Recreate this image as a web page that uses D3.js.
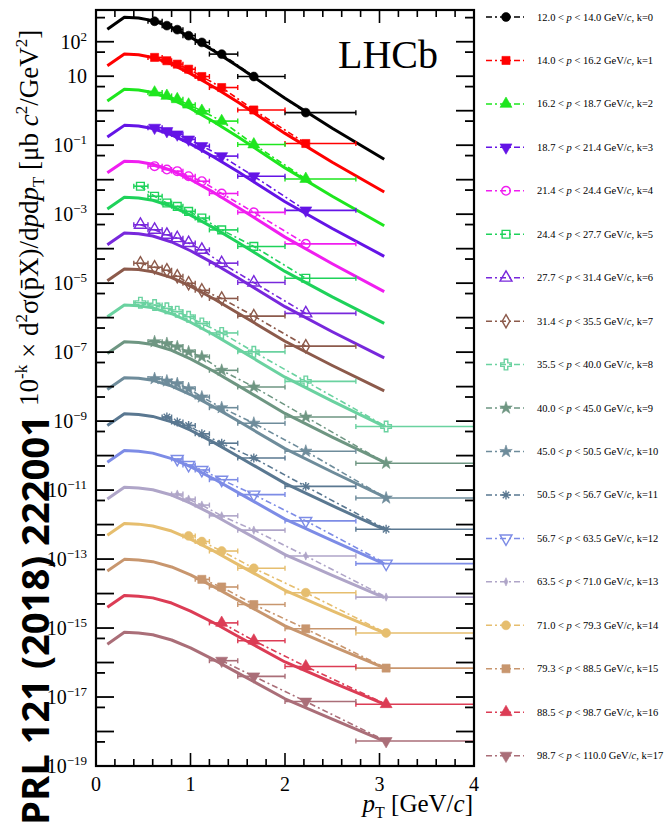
<!DOCTYPE html>
<html>
<head>
<meta charset="utf-8">
<script src="https://cdn.jsdelivr.net/npm/d3@7"></script>
<style>
  body { margin: 0; background: #fff; }
  svg { display: block; }
</style>
</head>
<body>
<svg id="chart" width="671" height="827"></svg>
<script>
// ---- data ----
const pEdges = [12.0, 14.0, 16.2, 18.7, 21.4, 24.4, 27.7, 31.4, 35.5, 40.0, 45.0, 50.5, 56.7, 63.5, 71.0, 79.3, 88.5, 98.7, 110.0];

const seriesColors = ["#000000", "#ff0000", "#1ee61e", "#6414e6", "#f01ef0", "#1ed25a", "#7828dc", "#8c5a4b", "#6ad2a0",
  "#6e9682", "#6e8c9b", "#5a7891", "#7d8ce6", "#afa5c8", "#e6be6e", "#c8966e", "#dc3c55", "#aa6e78"];

const seriesMarkers = ["circle", "square", "triangle", "triangleDown", "openCircle", "openSquare", "openTriangle", "openDiamond", "openCross",
  "star", "star", "asterisk", "openTriangleDown", "thinDiamond", "circle", "square", "triangle", "triangleDown"];

// pT bins of the measurement
const binLow = [0.40, 0.55, 0.70, 0.80, 0.92, 1.05, 1.20, 1.50, 2.00, 2.75];
const binHigh = [0.55, 0.70, 0.80, 0.92, 1.05, 1.20, 1.50, 2.00, 2.75, 4.00];
const binCenter = [0.47, 0.62, 0.75, 0.86, 0.98, 1.12, 1.33, 1.67, 2.22, 3.07];

// measured points, one row per k (null = no point in that bin)
const dataValues = [
  [null, 392, 293, 224, 150, 95.7, 43.8, 9.8, 0.88, null],
  [null, 35.1, 28.1, 22.4, 16.0, 9.8, 4.7, 1.05, 0.112, null],
  [null, 3.36, 2.69, 2.15, 1.50, 0.99, 0.50, 0.105, 0.0105, null],
  [null, 0.322, 0.258, 0.206, 0.147, 0.0944, 0.0483, 0.0126, 1.29e-3, null],
  [null, 0.0247, 0.0197, 0.0177, 0.01265, 9.04e-3, 3.98e-3, 1.13e-3, 1.38e-4, null],
  [6.47e-3, 3.31e-3, 2.11e-3, 1.69e-3, 1.21e-3, 7.73e-4, 3.5e-4, 1.16e-4, 1.39e-5, null],
  [4.93e-4, 3.53e-4, 2.52e-4, 2.02e-4, 1.45e-4, 9.25e-5, 3.8e-5, 1.04e-5, 1.33e-6, null],
  [3.79e-5, 2.9e-5, 2.37e-5, 1.58e-5, 9.93e-6, 6.2e-6, 3.6e-6, 1.11e-6, 1.49e-7, null],
  [2.72e-6, 2.32e-6, 1.86e-6, 1.49e-6, 1.06e-6, 6.79e-7, 3.6e-7, 1.02e-7, 1.42e-8, 6.97e-10],
  [null, 2.0e-7, 1.78e-7, 1.43e-7, 1.02e-7, 7.3e-8, 2.97e-8, 9.8e-9, 1.32e-9, 6.0e-11],
  [null, 1.71e-8, 1.46e-8, 1.22e-8, 8.73e-9, 5.0e-9, 2.45e-9, 8.7e-10, 1.34e-10, 5.9e-12],
  [null, null, 1.31e-9, 9.38e-10, 7.47e-10, 4.28e-10, 2.29e-10, 8.5e-11, 1.28e-11, 7.3e-13],
  [null, null, null, 8.0e-11, 5.36e-11, 3.84e-11, 2.0e-11, 7.4e-12, 1.28e-12, 7.4e-14],
  [null, null, null, 7.67e-12, 5.48e-12, 3.67e-12, 1.79e-12, 6.9e-13, 1.23e-13, 7.9e-15],
  [null, null, null, null, 4.69e-13, 3.22e-13, 1.71e-13, 5.4e-14, 1.06e-14, 7.2e-16],
  [null, null, null, null, null, 2.58e-14, 1.55e-14, 4.8e-15, 9.5e-16, 6.9e-17],
  [null, null, null, null, null, null, 1.41e-15, 4.3e-16, 7.7e-17, 6.2e-18],
  [null, null, null, null, null, null, 1.13e-16, 3.98e-17, 7.4e-18, 5.3e-19]
];

// model curves (solid lines)
const modelPt = [0.12, 0.30, 0.45, 0.60, 0.80, 1.00, 1.25, 1.50, 2.00, 2.50, 3.05];
const modelValues = [
  [230, 510, 490, 410, 260, 135, 54, 19.5, 2.3, 0.31, 0.039],
  [20.0, 43.8, 41.8, 35.1, 22.4, 11.9, 4.8, 1.78, 0.22, 0.032, 0.0044],
  [1.91, 4.19, 4.0, 3.37, 2.16, 1.16, 0.47, 0.175, 0.022, 0.0033, 4.6e-4],
  [0.172, 0.376, 0.359, 0.305, 0.2, 0.109, 0.045, 0.0172, 0.0023, 3.85e-4, 6.0e-5],
  [0.0158, 0.0345, 0.033, 0.0281, 0.0185, 0.0101, 0.0042, 1.59e-3, 2.16e-4, 3.66e-5, 5.7e-6],
  [1.42e-3, 3.1e-3, 2.96e-3, 2.54e-3, 1.69e-3, 9.4e-4, 3.94e-4, 1.53e-4, 2.19e-5, 4.0e-6, 6.8e-7],
  [1.29e-4, 2.83e-4, 2.7e-4, 2.33e-4, 1.56e-4, 8.7e-5, 3.67e-5, 1.43e-5, 2.08e-6, 3.9e-7, 6.8e-8],
  [1.18e-5, 2.59e-5, 2.47e-5, 2.14e-5, 1.45e-5, 8.15e-6, 3.48e-6, 1.37e-6, 2.07e-7, 4.1e-8, 7.5e-9],
  [1.06e-6, 2.32e-6, 2.21e-6, 1.92e-6, 1.3e-6, 7.35e-7, 3.14e-7, 1.24e-7, 1.88e-8, 3.8e-9, 7.0e-10],
  [9.1e-8, 2.0e-7, 1.91e-7, 1.66e-7, 1.13e-7, 6.4e-8, 2.74e-8, 1.09e-8, 1.67e-9, 3.43e-10, 6.5e-11],
  [8.3e-9, 1.82e-8, 1.74e-8, 1.52e-8, 1.04e-8, 5.9e-9, 2.54e-9, 1.02e-9, 1.59e-10, 3.34e-11, 6.4e-12],
  [7.5e-10, 1.63e-9, 1.56e-9, 1.37e-9, 9.5e-10, 5.44e-10, 2.37e-10, 9.6e-11, 1.57e-11, 3.52e-12, 7.3e-13],
  [6.4e-11, 1.4e-10, 1.33e-10, 1.18e-10, 8.2e-11, 4.76e-11, 2.09e-11, 8.6e-12, 1.44e-12, 3.4e-13, 7.3e-14],
  [5.5e-12, 1.2e-11, 1.15e-11, 1.02e-11, 7.2e-12, 4.2e-12, 1.87e-12, 7.7e-13, 1.35e-13, 3.35e-14, 7.6e-15],
  [4.9e-13, 1.08e-12, 1.03e-12, 9.1e-13, 6.5e-13, 3.8e-13, 1.69e-13, 7.0e-14, 1.24e-14, 3.15e-15, 7.3e-16],
  [4.5e-14, 9.8e-14, 9.4e-14, 8.4e-14, 5.9e-14, 3.5e-14, 1.56e-14, 6.5e-15, 1.16e-15, 3.0e-16, 7.0e-17],
  [4.0e-15, 8.8e-15, 8.4e-15, 7.5e-15, 5.3e-15, 3.1e-15, 1.4e-15, 5.8e-16, 1.04e-16, 2.66e-17, 6.2e-18],
  [3.4e-16, 7.5e-16, 7.2e-16, 6.4e-16, 4.5e-16, 2.67e-16, 1.19e-16, 5.0e-17, 8.9e-18, 2.3e-18, 5.3e-19]
];

// axis ticks / labels
const xTickLabels = [0, 1, 2, 3, 4];
const xMinorTicks = [0.2, 0.4, 0.6, 0.8, 1.2, 1.4, 1.6, 1.8, 2.2, 2.4, 2.6, 2.8, 3.2, 3.4, 3.6, 3.8];
const yMajorExps = [-19, -18, -17, -16, -15, -14, -13, -12, -11, -10, -9, -8, -7, -6, -5, -4, -3, -2, -1, 0, 1, 2];
const yLabelExps = [2, 1, -1, -3, -5, -7, -9, -11, -13, -15, -17, -19];

// ---- drawing ----
const svg = d3.select("#chart");
const serif = "'Liberation Serif', 'Times New Roman', serif";

const padL = 96, padR = 474, padT = 10, padB = 766;
const x = d3.scaleLinear().domain([0, 4]).range([padL, padR]);
const y = d3.scaleLog().domain([1e-19, 832]).range([padB, padT]);

// custom marker shapes
const symbolAsterisk = {
  draw(ctx, size) {
    const r = Math.sqrt(size) / 2, q = r * 0.72;
    ctx.moveTo(-r, 0); ctx.lineTo(r, 0);
    ctx.moveTo(0, -r); ctx.lineTo(0, r);
    ctx.moveTo(-q, -q); ctx.lineTo(q, q);
    ctx.moveTo(-q, q); ctx.lineTo(q, -q);
  }
};
const symbolThinDiamond = {
  draw(ctx, size) {
    const r = Math.sqrt(size) / 2;
    ctx.moveTo(0, -r); ctx.lineTo(r * 0.45, 0); ctx.lineTo(0, r); ctx.lineTo(-r * 0.45, 0); ctx.closePath();
  }
};

const shapeDefs = {
  circle: { type: d3.symbolCircle, size: 62, fill: true },
  square: { type: d3.symbolSquare, size: 66, fill: true },
  triangle: { type: d3.symbolTriangle, size: 62, fill: true },
  triangleDown: { type: d3.symbolTriangle, size: 62, fill: true, rot: 180 },
  openCircle: { type: d3.symbolCircle, size: 58, fill: false },
  openSquare: { type: d3.symbolSquare, size: 60, fill: false },
  openTriangle: { type: d3.symbolTriangle, size: 62, fill: false },
  openTriangleDown: { type: d3.symbolTriangle, size: 62, fill: false, rot: 180 },
  openDiamond: { type: d3.symbolDiamond, size: 50, fill: false },
  openCross: { type: d3.symbolCross, size: 62, fill: false },
  star: { type: d3.symbolStar, size: 48, fill: true },
  asterisk: { type: symbolAsterisk, size: 80, fill: false },
  thinDiamond: { type: symbolThinDiamond, size: 70, fill: true }
};

function drawMarker(g, name, cx, cy, color) {
  const def = shapeDefs[name];
  g.append("path")
    .attr("d", d3.symbol().type(def.type).size(def.size)())
    .attr("transform", "translate(" + cx + "," + cy + ")" + (def.rot ? " rotate(" + def.rot + ")" : ""))
    .attr("fill", def.fill ? color : "none")
    .attr("stroke", color)
    .attr("stroke-width", def.fill ? 0.6 : 1.4);
}

const dashDot = "6,3,2,3";
const modelLine = d3.line().x(d => x(d[0])).y(d => y(d[1])).curve(d3.curveLinear);
const dataLine = d3.line().x(d => x(d.pt)).y(d => y(d.v)).curve(d3.curveLinear);

const plot = svg.append("g");

modelValues.forEach((vals, k) => {
  const color = seriesColors[k];
  const g = plot.append("g");

  // model curve
  g.append("path")
    .datum(modelPt.map((p, i) => [p, vals[i]]))
    .attr("fill", "none")
    .attr("stroke", color)
    .attr("stroke-width", 3)
    .attr("stroke-linejoin", "round")
    .attr("d", modelLine);

  const pts = [];
  dataValues[k].forEach((v, i) => {
    if (v !== null) pts.push({ pt: binCenter[i], v: v, lo: binLow[i], hi: binHigh[i] });
  });

  // horizontal error bars with end caps
  pts.forEach(d => {
    const yy = y(d.v);
    g.append("line")
      .attr("x1", x(d.lo)).attr("x2", x(d.hi)).attr("y1", yy).attr("y2", yy)
      .attr("stroke", color).attr("stroke-width", 1.6);
    [d.lo, d.hi].forEach(e => {
      g.append("line")
        .attr("x1", x(e)).attr("x2", x(e)).attr("y1", yy - 2.5).attr("y2", yy + 2.5)
        .attr("stroke", color).attr("stroke-width", 1.4);
    });
  });

  // dash-dot line through the measured points
  g.append("path")
    .datum(pts)
    .attr("fill", "none")
    .attr("stroke", color)
    .attr("stroke-width", 1.6)
    .attr("stroke-dasharray", dashDot)
    .attr("d", dataLine);

  // markers
  pts.forEach(d => drawMarker(g, seriesMarkers[k], x(d.pt), y(d.v), color));
});

// ---- axes ticks ----
const axes = svg.append("g").attr("stroke", "#000");

xTickLabels.forEach(t => {
  axes.append("line").attr("x1", x(t)).attr("x2", x(t)).attr("y1", padB).attr("y2", padB - 13).attr("stroke-width", 1.6);
  axes.append("line").attr("x1", x(t)).attr("x2", x(t)).attr("y1", padT).attr("y2", padT + 13).attr("stroke-width", 1.6);
});
xMinorTicks.forEach(t => {
  axes.append("line").attr("x1", x(t)).attr("x2", x(t)).attr("y1", padB).attr("y2", padB - 7).attr("stroke-width", 1.6);
  axes.append("line").attr("x1", x(t)).attr("x2", x(t)).attr("y1", padT).attr("y2", padT + 7).attr("stroke-width", 1.6);
});

yMajorExps.forEach(e => {
  const yy = y(Math.pow(10, e));
  axes.append("line").attr("x1", padL).attr("x2", padL + 18).attr("y1", yy).attr("y2", yy).attr("stroke-width", 1.8);
  axes.append("line").attr("x1", padR).attr("x2", padR - 18).attr("y1", yy).attr("y2", yy).attr("stroke-width", 1.8);
  // minor tick at 5 x 10^(e-1)
  if (e > -19) {
    const ym = y(5 * Math.pow(10, e - 1));
    axes.append("line").attr("x1", padL).attr("x2", padL + 9).attr("y1", ym).attr("y2", ym).attr("stroke-width", 1.8);
    axes.append("line").attr("x1", padR).attr("x2", padR - 9).attr("y1", ym).attr("y2", ym).attr("stroke-width", 1.8);
  }
});
// top minor tick (5 x 10^2)
[500].forEach(v => {
  axes.append("line").attr("x1", padL).attr("x2", padL + 9).attr("y1", y(v)).attr("y2", y(v)).attr("stroke-width", 1.8);
  axes.append("line").attr("x1", padR).attr("x2", padR - 9).attr("y1", y(v)).attr("y2", y(v)).attr("stroke-width", 1.8);
});

// frame
svg.append("rect")
  .attr("x", padL).attr("y", padT).attr("width", padR - padL).attr("height", padB - padT)
  .attr("fill", "none").attr("stroke", "#000").attr("stroke-width", 2.2);

// ---- tick labels ----
xTickLabels.forEach(t => {
  svg.append("text")
    .attr("x", x(t)).attr("y", 791)
    .attr("text-anchor", "middle")
    .attr("font-family", serif).attr("font-size", "20px")
    .text(t);
});

yLabelExps.forEach(e => {
  const t = svg.append("text")
    .attr("x", 87).attr("y", y(Math.pow(10, e)) + 7)
    .attr("text-anchor", "end")
    .attr("font-family", serif).attr("font-size", "20px");
  t.append("tspan").text("10");
  if (e !== 1) {
    t.append("tspan").attr("font-size", "13px").attr("dy", -8).text(e < 0 ? "\u2212" + (-e) : e);
  }
});

// ---- axis titles ----
const xt = svg.append("text")
  .attr("x", 473).attr("y", 812)
  .attr("text-anchor", "end")
  .attr("font-family", serif).attr("font-size", "25px");
xt.append("tspan").attr("font-style", "italic").text("p");
xt.append("tspan").attr("font-size", "16px").attr("dy", 6).text("T");
xt.append("tspan").attr("dy", -6).text(" [GeV/");
xt.append("tspan").attr("font-style", "italic").text("c");
xt.append("tspan").text("]");

const yt = svg.append("text")
  .attr("transform", "translate(38,406) rotate(-90)")
  .attr("font-family", serif).attr("font-size", "27px");
yt.append("tspan").text("10");
yt.append("tspan").attr("font-size", "17px").attr("dy", -11).text("-k");
yt.append("tspan").attr("dy", 11).text(" \u00d7 d");
yt.append("tspan").attr("font-size", "17px").attr("dy", -11).text("2");
yt.append("tspan").attr("dy", 11).text("\u03c3(p\u0304X)/d");
yt.append("tspan").attr("font-style", "italic").text("p");
yt.append("tspan").text("d");
yt.append("tspan").attr("font-style", "italic").text("p");
yt.append("tspan").attr("font-size", "17px").attr("dy", 6).text("T");
yt.append("tspan").attr("dy", -6).text(" [\u03bcb  ");
yt.append("tspan").attr("font-style", "italic").text("c");
yt.append("tspan").attr("font-size", "17px").attr("dy", -11).text("2");
yt.append("tspan").attr("dy", 11).text("/GeV");
yt.append("tspan").attr("font-size", "17px").attr("dy", -11).text("2");
yt.append("tspan").attr("dy", 11).text("]");

// LHCb label
svg.append("text")
  .attr("x", 338).attr("y", 68)
  .attr("font-family", serif).attr("font-size", "40px")
  .text("LHCb");

// ---- legend ----
const legend = svg.append("g");
seriesColors.forEach((color, k) => {
  const ly = 17 + k * 43.45;
  legend.append("line")
    .attr("x1", 486).attr("x2", 524).attr("y1", ly).attr("y2", ly)
    .attr("stroke", color).attr("stroke-width", 1.5)
    .attr("stroke-dasharray", dashDot);
  drawMarker(legend, seriesMarkers[k], 506, ly, color);
  const t = legend.append("text")
    .attr("x", 537).attr("y", ly + 3.5)
    .attr("font-family", serif).attr("font-size", "10.5px");
  t.append("tspan").text(pEdges[k].toFixed(1) + " < ");
  t.append("tspan").attr("font-style", "italic").text("p");
  t.append("tspan").text(" < " + pEdges[k + 1].toFixed(1) + " GeV/");
  t.append("tspan").attr("font-style", "italic").text("c");
  t.append("tspan").text(", k=" + k);
});

// journal stamp
svg.append("text")
  .attr("transform", "translate(49,825) rotate(-90)")
  .attr("font-family", "'Open Sans', 'Liberation Sans', sans-serif")
  .attr("font-weight", "bold")
  .attr("font-size", "38px")
  .attr("textLength", 410)
  .attr("lengthAdjust", "spacingAndGlyphs")
  .attr("fill", "#000")
  .text("PRL 121 (2018) 222001");
</script>
</body>
</html>
